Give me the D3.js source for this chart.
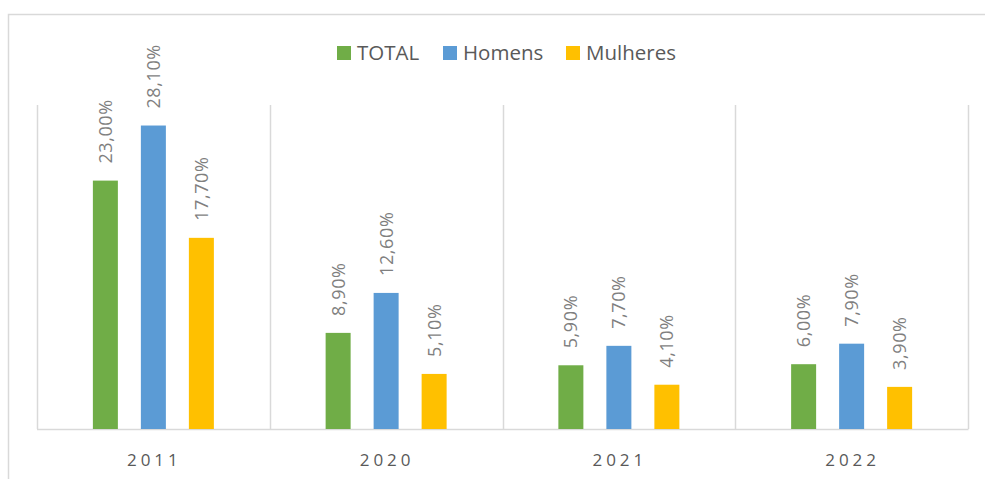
<!DOCTYPE html>
<html><head><meta charset="utf-8">
<script src="https://cdn.jsdelivr.net/npm/d3@7"></script>
<style>body{margin:0;background:#fff}svg{display:block}</style>
</head><body>
<script>
const categories = ["2011", "2020", "2021", "2022"];
const seriesNames = ["TOTAL", "Homens", "Mulheres"];
const totalValues = [23.0, 8.9, 5.9, 6.0];
const homensValues = [28.1, 12.6, 7.7, 7.9];
const mulheresValues = [17.7, 5.1, 4.1, 3.9];
const labelTexts = [
  ["23,00%", "28,10%", "17,70%"],
  ["8,90%", "12,60%", "5,10%"],
  ["5,90%", "7,70%", "4,10%"],
  ["6,00%", "7,90%", "3,90%"]
];
const colors = ["#70AD47", "#5B9BD5", "#FFC000"];
const seriesValues = [totalValues, homensValues, mulheresValues];

const W = 985, H = 479;
const svg = d3.select("body").append("svg").attr("width", W).attr("height", H);

svg.append("rect").attr("x", 8.5).attr("y", 14.5).attr("width", 990).attr("height", 480)
  .attr("fill", "none").attr("stroke", "#d9d9d9").attr("stroke-width", 1.5);

const x0 = d3.scaleBand().domain(categories).range([37, 968]).paddingInner(0).paddingOuter(0);
const y = d3.scaleLinear().domain([0, 30]).range([429, 105]);
const barW = 25, step = 48;

// separators
const seps = d3.range(categories.length + 1).map(i => i === categories.length ? x0.range()[1] : x0(categories[i]));
svg.selectAll("line.sep").data(seps).enter().append("line")
  .attr("x1", d => Math.round(d) + 0.5).attr("x2", d => Math.round(d) + 0.5)
  .attr("y1", y(30)).attr("y2", y(0))
  .attr("stroke", "#d9d9d9").attr("stroke-width", 1.5);
svg.append("line").attr("x1", 37).attr("x2", 968.5).attr("y1", y(0) + 0.5).attr("y2", y(0) + 0.5)
  .attr("stroke", "#d9d9d9").attr("stroke-width", 1.5);

const data = [];
categories.forEach((c, ci) => {
  seriesValues.forEach((vals, si) => {
    data.push({cat: c, si, v: vals[ci], label: labelTexts[ci][si]});
  });
});
const cx = d => x0(d.cat) + x0.bandwidth() / 2 + (d.si - 1) * step;

svg.selectAll("rect.bar").data(data).enter().append("rect")
  .attr("x", d => cx(d) - barW / 2).attr("width", barW)
  .attr("y", d => y(d.v)).attr("height", d => y(0) - y(d.v))
  .attr("fill", d => colors[d.si]);

svg.selectAll("text.lbl").data(data).enter().append("text")
  .attr("transform", d => `translate(${cx(d) + 6.5},${y(d.v) - 17}) rotate(-90)`)
  .attr("text-anchor", "start")
  .attr("font-family", "Open Sans, sans-serif").attr("font-size", 18)
  .attr("letter-spacing", 0.6)
  .attr("fill", "#7f7f7f")
  .text(d => d.label);

// axis labels
svg.selectAll("text.cat").data(categories).enter().append("text")
  .attr("x", d => x0(d) + x0.bandwidth() / 2 + 1).attr("y", 466)
  .attr("text-anchor", "middle")
  .attr("font-family", "Open Sans, sans-serif").attr("font-size", 17)
  .attr("letter-spacing", 4)
  .attr("fill", "#595959")
  .text(d => d);

// legend
const legX = [337, 443, 566];
seriesNames.forEach((n, i) => {
  svg.append("rect").attr("x", legX[i]).attr("y", 46).attr("width", 14).attr("height", 14).attr("fill", colors[i]);
  svg.append("text").attr("x", legX[i] + 20).attr("y", 60)
    .attr("font-family", "Open Sans, sans-serif").attr("font-size", 20.5)
    .attr("fill", "#595959").text(n);
});
</script>
</body></html>
